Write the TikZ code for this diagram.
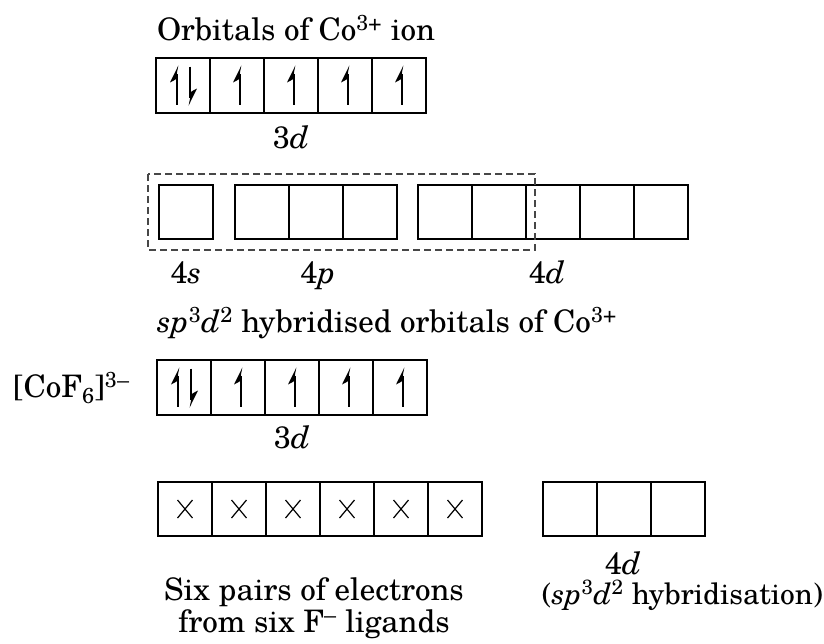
\documentclass[tikz,border=0pt]{standalone}
\usepackage{fontspec}
\setmainfont{texgyreschola-regular.otf}[ItalicFont=texgyreschola-italic.otf, BoldFont=texgyreschola-bold.otf, BoldItalicFont=texgyreschola-bolditalic.otf]
\tikzset{
  orb/.style={draw, line width=1.5pt, minimum width=54pt, minimum height=54pt, inner sep=0pt, outer sep=0pt},
  orbtall/.style={orb, minimum height=55pt},
  lbl/.style={inner sep=0pt, font=\fontsize{31}{36}\selectfont},
  lblsmall/.style={inner sep=0pt, font=\fontsize{29.5}{35}\selectfont},
  stem/.style={line width=2.7pt},
  crossline/.style={line width=1.2pt},
  hybbox/.style={draw=black!72, line width=1.4pt, dash pattern=on 7pt off 4pt}
}
\newcommand\harpup[2]{\begin{scope}[shift={(#1.center)}]
  \draw[stem] (#2,-12) -- (#2,19);
  \fill (#2+1.35,-20) -- (#2-7,-3) -- (#2-1.35,-6) -- cycle;
\end{scope}}
\newcommand\harpdown[2]{\begin{scope}[shift={(#1.center)}]
  \draw[stem] (#2,-19) -- (#2,12);
  \fill (#2-1.35,20) -- (#2+7,3) -- (#2+1.35,6) -- cycle;
\end{scope}}
\newcommand\xmk[1]{\begin{scope}[shift={(#1.center)}]
  \draw[crossline] (-7.5,-9) -- (7.5,9) (-7.5,9) -- (7.5,-9);
\end{scope}}
\begin{document}
\begin{tikzpicture}[x=1pt,y=-1pt]
\useasboundingbox (0,0) rectangle (824,643);
% row 1: 3d of Co3+
\node[lbl, anchor=base] (t1) at (296,40) {Orbitals of Co\textsuperscript{3+} ion};
\foreach \i in {1,...,5} \node[orbtall] (a\i) at ({129+54*\i},85.5) {};
\harpup{a1}{-6}\harpdown{a1}{7}
\foreach \i in {2,...,5} {\harpup{a\i}{3}}
\node[lbl, anchor=base] (l3d1) at (291,148) {3\textit{d}};
% row 2: 4s 4p 4d
\node[orb] (s1) at (186,212) {};
\foreach \i in {1,2,3} \node[orb] (p\i) at ({208+54*\i},212) {};
\foreach \i in {1,...,5} \node[orb] (d\i) at ({391+54*\i},212) {};
\draw[hybbox] ([shift={(-11,-11)}]s1.north west) rectangle ([shift={(9,11)}]d2.south east);
\node[lbl, anchor=base] (l4s) at (186,283) {4\textit{s}};
\node[lbl, anchor=base] (l4p) at (318,283) {4\textit{p}};
\node[lbl, anchor=base] (l4d) at (547,283) {4\textit{d}};
% row 3: [CoF6]3-
\node[lbl, anchor=base west] (t2) at (157,332) {\textit{sp}\textsuperscript{3}\textit{d}\textsuperscript{2} hybridised orbitals of Co\textsuperscript{3+}};
\node[lbl, anchor=base west] (cof) at (13,397) {[CoF\textsubscript{6}]\textsuperscript{3--}};
\foreach \i in {1,...,5} \node[orbtall] (b\i) at ({130+54*\i},387.5) {};
\harpup{b1}{-6}\harpdown{b1}{7}
\foreach \i in {2,...,5} {\harpup{b\i}{3}}
\node[lbl, anchor=base] (l3d2) at (292,448) {3\textit{d}};
% row 4: ligand pairs and empty 4d
\foreach \i in {1,...,6} {\node[orb] (x\i) at ({131+54*\i},509) {}; \xmk{x\i}}
\foreach \i in {1,2,3} \node[orb] (e\i) at ({516+54*\i},509) {};
\node[lbl, anchor=base] (l4d2) at (623,574) {4\textit{d}};
\node[lblsmall, anchor=base east] (hyb) at (823,604) {(\textit{sp}\textsuperscript{3}\textit{d}\textsuperscript{2} hybridisation)};
\node[lbl, anchor=base] (six1) at (314,600) {Six pairs of electrons};
\node[lbl, anchor=base] (six2) at (314,632) {from six F\textsuperscript{--} ligands};
\end{tikzpicture}
\end{document}
